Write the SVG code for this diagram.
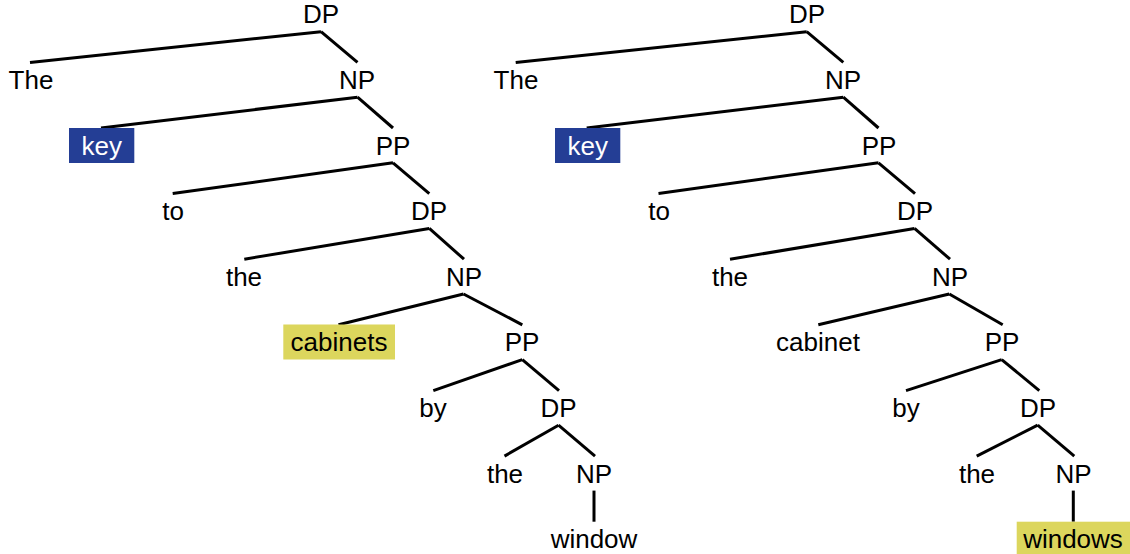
<svg xmlns="http://www.w3.org/2000/svg" width="1130" height="554" viewBox="0 0 1130 554">
<style>
text{font-family:"Liberation Sans",Arial,sans-serif;font-size:26px;fill:#000;text-anchor:middle}
.conn line{stroke:#000;stroke-width:3;stroke-linecap:butt}
.blue{fill:#243e95}
.yel{fill:#dcd65d}
text.w{fill:#fff}
</style>
<rect width="1130" height="554" fill="#fff"/>
<g class="conn" id="connectors">
<!-- left tree -->
<line x1="321" y1="31.7" x2="30" y2="62.4"/>
<line x1="321" y1="31.7" x2="357.5" y2="62.4"/>
<line x1="357.5" y1="97.2" x2="101" y2="128"/>
<line x1="357.5" y1="97.2" x2="393" y2="128"/>
<line x1="393" y1="162.8" x2="172.7" y2="193.6"/>
<line x1="393" y1="162.8" x2="429.3" y2="193.6"/>
<line x1="429.3" y1="228.4" x2="244.3" y2="259.2"/>
<line x1="429.3" y1="228.4" x2="464" y2="259.2"/>
<line x1="463.5" y1="294" x2="338.5" y2="324.8"/>
<line x1="463.5" y1="294" x2="522.3" y2="324.8"/>
<line x1="522.3" y1="359.6" x2="433.3" y2="390.6"/>
<line x1="522.3" y1="359.6" x2="559" y2="390.6"/>
<line x1="558.5" y1="425.2" x2="504.5" y2="456.1"/>
<line x1="558.5" y1="425.2" x2="595" y2="456.1"/>
<line x1="594" y1="490.6" x2="594" y2="521.7"/>
<!-- right tree -->
<line x1="806.7" y1="31.7" x2="515.7" y2="62.4"/>
<line x1="806.7" y1="31.7" x2="843.3" y2="62.4"/>
<line x1="843.3" y1="97.2" x2="586.7" y2="128"/>
<line x1="843.3" y1="97.2" x2="878.5" y2="128"/>
<line x1="878.5" y1="162.8" x2="658.5" y2="193.6"/>
<line x1="878.5" y1="162.8" x2="915" y2="193.6"/>
<line x1="914.5" y1="228.4" x2="730" y2="259.2"/>
<line x1="914.5" y1="228.4" x2="950" y2="259.2"/>
<line x1="949.3" y1="294" x2="818.3" y2="324.8"/>
<line x1="949.3" y1="294" x2="1002.7" y2="324.8"/>
<line x1="1001.7" y1="359.6" x2="906" y2="390.6"/>
<line x1="1001.7" y1="359.6" x2="1039.3" y2="390.6"/>
<line x1="1037.7" y1="425.2" x2="976.7" y2="456.1"/>
<line x1="1037.7" y1="425.2" x2="1074.3" y2="456.1"/>
<line x1="1073.3" y1="490.6" x2="1073.3" y2="521.7"/>
</g>
<!-- left tree nodes -->
<g id="L_DP1"><text x="321" y="23.3">DP</text></g>
<g id="L_The"><text x="31" y="88.9">The</text></g>
<g id="L_NP1"><text x="357" y="88.9">NP</text></g>
<g id="L_key"><rect class="blue" x="69" y="128" width="65.3" height="35"/><text class="w" x="101.7" y="154.5">key</text></g>
<g id="L_PP1"><text x="393" y="154.5">PP</text></g>
<g id="L_to"><text x="173" y="220.1">to</text></g>
<g id="L_DP2"><text x="429" y="220.1">DP</text></g>
<g id="L_the1"><text x="244" y="285.7">the</text></g>
<g id="L_NP2"><text x="464" y="285.7">NP</text></g>
<g id="L_cabinets"><rect class="yel" x="283.3" y="324.5" width="111.7" height="35"/><text x="339" y="351.3">cabinets</text></g>
<g id="L_PP2"><text x="522" y="351.3">PP</text></g>
<g id="L_by"><text x="433" y="416.9">by</text></g>
<g id="L_DP3"><text x="558.5" y="416.9">DP</text></g>
<g id="L_the2"><text x="505" y="482.5">the</text></g>
<g id="L_NP3"><text x="594" y="482.5">NP</text></g>
<g id="L_window"><text x="594" y="548.1">window</text></g>
<!-- right tree nodes -->
<g id="R_DP1"><text x="807" y="23.3">DP</text></g>
<g id="R_The"><text x="516" y="88.9">The</text></g>
<g id="R_NP1"><text x="843" y="88.9">NP</text></g>
<g id="R_key"><rect class="blue" x="555" y="128" width="65.3" height="35"/><text class="w" x="587.7" y="154.5">key</text></g>
<g id="R_PP1"><text x="879" y="154.5">PP</text></g>
<g id="R_to"><text x="659" y="220.1">to</text></g>
<g id="R_DP2"><text x="915" y="220.1">DP</text></g>
<g id="R_the1"><text x="730" y="285.7">the</text></g>
<g id="R_NP2"><text x="950" y="285.7">NP</text></g>
<g id="R_cabinet"><text x="818" y="351.3">cabinet</text></g>
<g id="R_PP2"><text x="1002" y="351.3">PP</text></g>
<g id="R_by"><text x="906" y="416.9">by</text></g>
<g id="R_DP3"><text x="1038" y="416.9">DP</text></g>
<g id="R_the2"><text x="977" y="482.5">the</text></g>
<g id="R_NP3"><text x="1073.5" y="482.5">NP</text></g>
<g id="R_windows"><rect class="yel" x="1016.7" y="521.7" width="113.3" height="35"/><text x="1073" y="548.1">windows</text></g>
</svg>
